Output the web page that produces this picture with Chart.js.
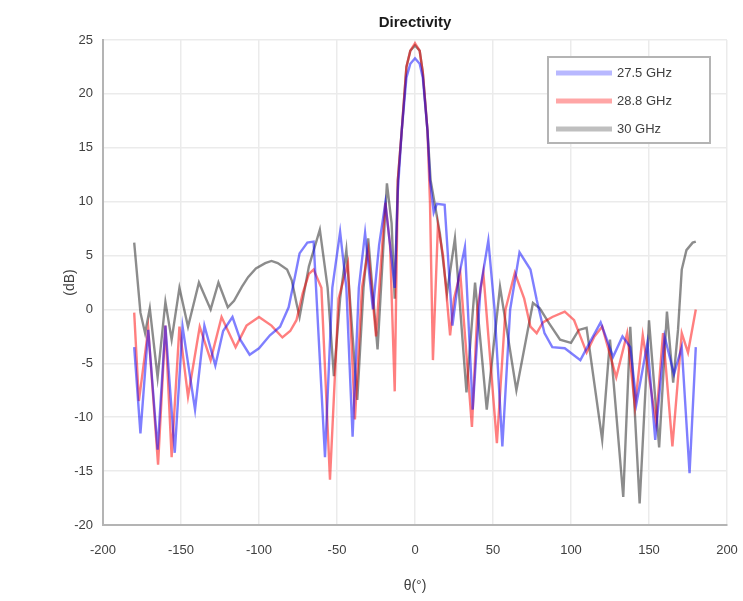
<!DOCTYPE html>
<html><head><meta charset="utf-8">
<script src="https://cdn.jsdelivr.net/npm/chart.js@4.4.1/dist/chart.umd.min.js"></script>
<style>html,body{margin:0;padding:0;background:#fff;}#wrap{width:743px;height:601px;}</style>
</head><body><div id="wrap"><canvas id="c" width="743" height="601"></canvas></div>
<script>
const chartTitle = 'Directivity';
const xTitle = 'θ(°)';
const yTitle = '(dB)';
const seriesLabels = ['27.5 GHz', '28.8 GHz', '30 GHz'];

const theta275 = [-180,-176,-171,-165,-160,-154,-149,-141,-135,-128,-123,-117,-112,-106,-100,-93,-86.5,-81,-77,-74,-69,-65,-57.7,-53,-48,-44,-40,-36,-32,-27,-23,-19,-16,-13,-11,-8.5,-5.5,-3,0,3,5,8,9.6,12,14,19,24,28,32,37,42,47,51,56,61,67,74,78,83,88,96,106,113,119,127,133,138,142,149,154,160,166,171,176,180];
const dB275    = [-3.5,-11.5,-1.9,-13,-1.5,-13.3,-1.6,-9.3,-1.5,-5.2,-2,-0.7,-2.8,-4.2,-3.6,-2.4,-1.6,0.2,3,5.2,6.2,6.3,-13.7,2,7.2,2,-11.8,2,7.1,0,6,9.9,6,2,11,16.6,21.5,22.8,23.3,22.8,21.5,16.6,12,9,9.8,9.7,-1.5,3,5.8,-9.3,2,6.4,0,-12.7,0,5.3,3.7,0.9,-2.2,-3.5,-3.6,-4.7,-2.8,-1.2,-4.4,-2.5,-3.5,-8.7,-3.1,-12.1,-2.5,-6,-3.5,-15.2,-3.5];

const theta288 = [-180,-177,-171,-164.7,-160,-156,-151,-145.5,-138,-131,-124,-115,-108,-100,-92,-85,-80,-76,-72,-68,-65,-60,-54.5,-49,-43,-38.5,-34,-30,-25,-21,-19,-16,-13,-11,-8.5,-5.5,-3,0,3,5,8,9.6,11.5,14.7,18,22.5,25,29,36.5,40,43.8,52.5,58,64,70,74,78,82,88,96,102,106,110,115,120,129,136,141,146,154.5,159,165,171,175,180];
const dB288    = [-0.3,-8.5,-1.8,-14.4,-1.5,-13.7,-1.6,-8.1,-1.6,-4.7,-0.7,-3.5,-1.5,-0.7,-1.5,-2.6,-2,-1,1.5,3.3,3.7,2,-15.8,1,4.3,-10.2,2,5.5,-2.5,6,9.9,6,-7.6,12,16.6,22.5,24,24.7,24,22,16.6,10,-4.7,7.8,5,-2.4,1,3.4,-10.9,0,3.4,-12.4,0,3.4,1,-1.6,-2.2,-1.2,-0.7,-0.2,-1,-2.5,-4,-2.5,-1.6,-6.3,-2.2,-9,-2.4,-10.5,-2.2,-12.7,-2.2,-4,0];

const theta30 = [-180,-176,-173,-170,-165,-160,-156,-151,-145.5,-138.5,-131,-126,-120,-116,-111,-107,-102,-96,-92,-88,-82,-79,-76,-74,-68,-61,-56,-52,-48,-44,-37,-33,-30,-24,-21,-18,-15,-13,-11,-8.5,-5.5,-3,0,3,5,8,10,13,16,20.5,25.6,33,38.5,46,54.5,65,75.6,80,86,93,100,105,110,120,125,133.5,138,144,150,156.5,161.5,165.5,168.6,171,174,178,180];
const dB30    = [6.2,-0.3,-2.2,0.1,-6.3,0.7,-2.8,2,-1.6,2.5,0,2.5,0.2,0.8,2.1,3,3.8,4.3,4.5,4.3,3.7,2.7,0.6,-0.7,4,7.4,2,-6.2,1,5.5,-8.4,2,6.6,-3.7,4,11.7,8,1,12,16.6,22.5,24,24.5,24,22,16.6,12,9.5,7,1.5,6.6,-7.7,2.5,-9.3,2.1,-7.5,0.6,0.1,-1.3,-2.8,-3.1,-1.9,-1.7,-12.1,-2.8,-17.4,-1.6,-18,-1,-12.8,-0.2,-6.8,-1.9,3.7,5.5,6.2,6.3];

const xTickValues = [-200,-150,-100,-50,0,50,100,150,200];
const yTickValues = [-20,-15,-10,-5,0,5,10,15,20,25];

const lineColors = ['rgba(0,0,255,0.5)', 'rgba(255,0,0,0.5)', 'rgba(0,0,0,0.45)'];
const legendColors = ['rgba(0,0,255,0.28)', 'rgba(255,0,0,0.35)', 'rgba(0,0,0,0.25)'];

function pairs(xs, ys) { return xs.map((x, i) => ({x: x, y: ys[i]})); }

const boxLegend = {
  id: 'boxLegend',
  afterDraw(chart) {
    const ctx = chart.ctx, ca = chart.chartArea;
    const w = 162, h = 86;
    const left = ca.right - 17 - w, top = ca.top + 17;
    ctx.save();
    ctx.fillStyle = '#ffffff';
    ctx.fillRect(left, top, w, h);
    ctx.strokeStyle = '#b4b4b4';
    ctx.lineWidth = 2;
    ctx.strokeRect(left, top, w, h);
    ctx.font = '13px "Liberation Sans", Arial, sans-serif';
    ctx.textBaseline = 'middle';
    ctx.fillStyle = '#404040';
    chart.data.datasets.forEach((ds, i) => {
      const y = top + 16 + i * 28;
      ctx.strokeStyle = legendColors[i];
      ctx.lineWidth = 5;
      ctx.beginPath();
      ctx.moveTo(left + 8, y);
      ctx.lineTo(left + 64, y);
      ctx.stroke();
      ctx.fillText(ds.label, left + 69, y);
    });
    ctx.restore();
  }
};

const fontFam = '"Liberation Sans", Arial, sans-serif';

new Chart(document.getElementById('c'), {
  type: 'line',
  data: {
    datasets: [
      {label: seriesLabels[0], data: pairs(theta275, dB275), borderColor: lineColors[0]},
      {label: seriesLabels[1], data: pairs(theta288, dB288), borderColor: lineColors[1]},
      {label: seriesLabels[2], data: pairs(theta30, dB30), borderColor: lineColors[2]}
    ].map(d => Object.assign(d, {borderWidth: 2.4, pointRadius: 0, tension: 0, fill: false}))
  },
  options: {
    responsive: false,
    animation: false,
    devicePixelRatio: 1,
    layout: {padding: {left: 0, right: 0, top: 0, bottom: 0}},
    plugins: {
      legend: {display: false},
      tooltip: {enabled: false},
      title: {
        display: true, text: chartTitle, fullSize: false, color: '#1a1a1a',
        font: {family: fontFam, size: 15, weight: 'bold'},
        padding: {top: 14, bottom: 8}
      }
    },
    scales: {
      x: {
        type: 'linear', min: -200, max: 200,
        afterBuildTicks: s => { s.ticks = xTickValues.map(v => ({value: v})); },
        afterFit: s => { s.height = 76; s.paddingRight = 16; s.paddingLeft = 0; },
        ticks: {color: '#404040', font: {family: fontFam, size: 13}, padding: 18, maxRotation: 0},
        grid: {color: '#ebebeb', lineWidth: 1.5, drawTicks: false},
        border: {display: true, color: '#b4b4b4', width: 2},
        title: {display: true, text: xTitle, color: '#404040', font: {family: fontFam, size: 14}, padding: {top: 6, bottom: 6}}
      },
      y: {
        type: 'linear', min: -20, max: 25,
        afterBuildTicks: s => { s.ticks = yTickValues.map(v => ({value: v})); },
        afterFit: s => { s.width = 103; },
        ticks: {color: '#404040', font: {family: fontFam, size: 13}, padding: 10},
        grid: {color: '#ebebeb', lineWidth: 1.5, drawTicks: false},
        border: {display: true, color: '#b4b4b4', width: 2},
        title: {display: true, text: yTitle, color: '#404040', font: {family: fontFam, size: 14}, padding: {top: 62, bottom: 62}}
      }
    }
  },
  plugins: [boxLegend]
});
</script>
</body></html>
